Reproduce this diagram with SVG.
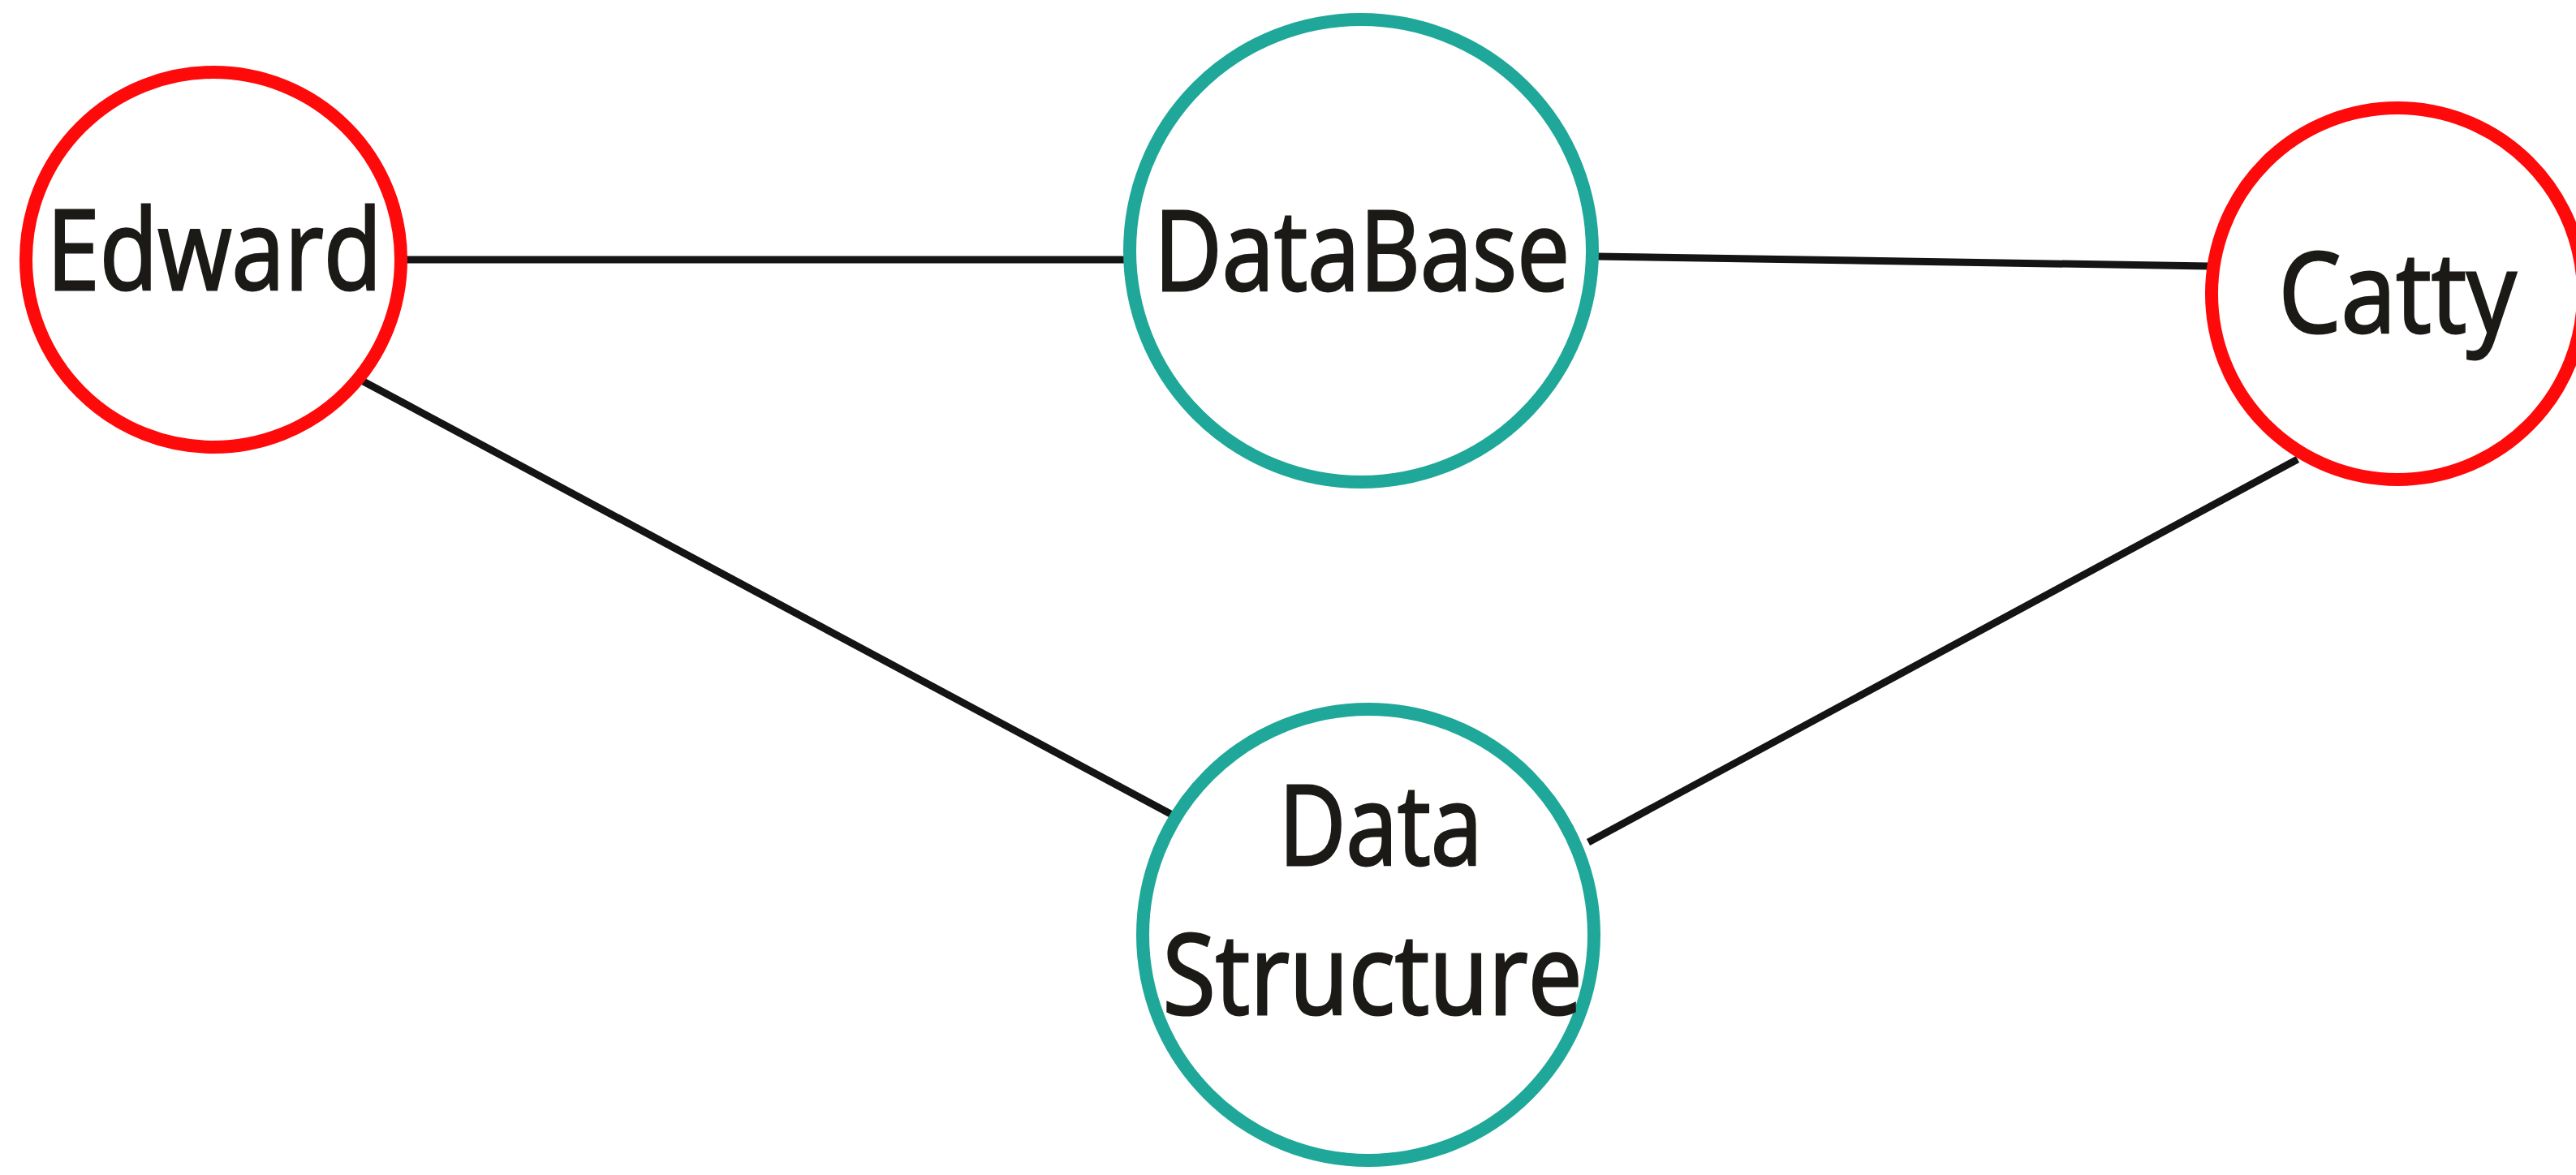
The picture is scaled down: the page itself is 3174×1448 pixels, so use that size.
<svg xmlns="http://www.w3.org/2000/svg" width="3174" height="1448" viewBox="0 0 3174 1448">
<style>
.node{fill:#ffffff;stroke-width:16}
.red{stroke:#ff0a0a}
.teal{stroke:#1fa899}
.lbl{font-family:"Open Sans","Noto Sans",sans-serif;font-size:138px;font-weight:400;fill:#1c1a17;stroke:#1c1a17;stroke-width:3;text-anchor:middle}
.edge{stroke:#141414;stroke-width:9;fill:none}
</style>
<rect width="3174" height="1448" fill="#ffffff"/>
<g id="connectors">
<line class="edge" x1="498" y1="320" x2="1386" y2="320"/>
<line class="edge" x1="1967" y1="316" x2="2722" y2="328"/>
<line class="edge" x1="442" y1="467" x2="1446" y2="1005"/>
<line class="edge" x1="2831" y1="566" x2="1957" y2="1038"/>
</g>
<g id="node-edward">
<circle class="node red" cx="263" cy="320" r="231"/>
<text class="lbl" x="264" y="357" textLength="413" lengthAdjust="spacingAndGlyphs">Edward</text>
</g>
<g id="node-database">
<circle class="node teal" cx="1677" cy="309" r="285"/>
<text class="lbl" x="1678" y="358" textLength="512" lengthAdjust="spacingAndGlyphs">DataBase</text>
</g>
<g id="node-catty">
<circle class="node red" cx="2954" cy="362" r="229"/>
<text class="lbl" x="2954" y="410" textLength="293" lengthAdjust="spacingAndGlyphs">Catty</text>
</g>
<g id="node-datastructure">
<circle class="node teal" cx="1686" cy="1152" r="278"/>
<text class="lbl" x="1701" y="1066" textLength="251" lengthAdjust="spacingAndGlyphs">Data</text>
<text class="lbl" x="1691" y="1250" textLength="517" lengthAdjust="spacingAndGlyphs">Structure</text>
</g>
</svg>
